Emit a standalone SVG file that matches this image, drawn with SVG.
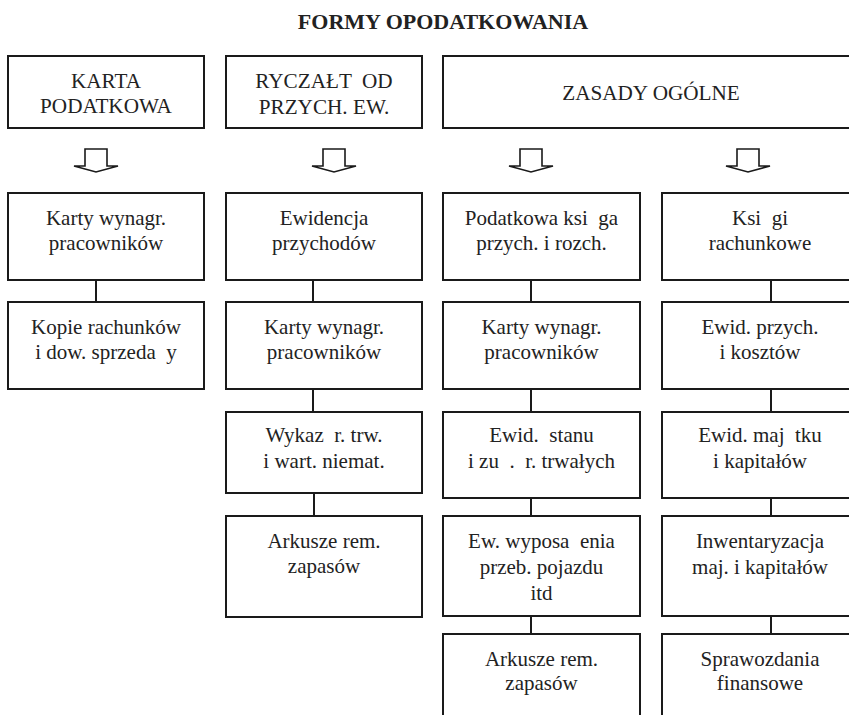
<svg xmlns="http://www.w3.org/2000/svg" width="849" height="715" viewBox="0 0 849 715">
<style>
.box{fill:#fff;stroke:#1a1a1a;stroke-width:2}
.t{font-family:'Liberation Serif','Times New Roman',serif;font-size:21px;font-weight:normal;fill:#222;text-anchor:middle}
.u{font-size:21.2px}
.title{font-family:'Liberation Serif','Times New Roman',serif;font-size:22px;font-weight:bold;fill:#222;text-anchor:middle}
.c{stroke:#1a1a1a;stroke-width:2;fill:none}
.arr{fill:#fff;stroke:#1a1a1a;stroke-width:1.6;stroke-linejoin:miter}
</style>
<rect width="849" height="715" fill="#fff"/>
<text class="title" x="443" y="29">FORMY OPODATKOWANIA</text>

<g id="connectors">
<path class="arr" d="M85,149 H107 V166 H118 L96,172 L74,166 H85 Z"/>
<path class="arr" d="M323,149 H345 V166 H356 L334,172 L312,166 H323 Z"/>
<path class="arr" d="M520,149 H542 V166 H553 L531,172 L509,166 H520 Z"/>
<path class="arr" d="M737,149 H759 V166 H770 L748,172 L726,166 H737 Z"/>
<path class="c" d="M96,280 V302 M313,280 V302 M313,389 V412 M314,493 V516 M531,280 V302 M531,389 V412 M531,498 V516 M531,616 V634 M771,280 V302 M771,389 V412 M771,498 V516 M771,616 V634"/>
</g>

<g id="karta">
<rect class="box" x="8" y="56" width="196" height="72"/>
<text class="t u" x="106" y="88.3">KARTA</text>
<text class="t u" x="106" y="113.3">PODATKOWA</text>
</g>
<g id="ryczalt">
<rect class="box" x="226" y="56" width="196" height="72"/>
<text class="t u" x="324" y="88.3" xml:space="preserve">RYCZAŁT  OD</text>
<text class="t u" x="324" y="114">PRZYCH. EW.</text>
</g>
<g id="zasady">
<rect class="box" x="443" y="56" width="416" height="72"/>
<text class="t u" x="651" y="100">ZASADY OGÓLNE</text>
</g>

<g id="c1r1"><rect class="box" x="8" y="193" width="196" height="87"/>
<text class="t" x="106" y="225">Karty wynagr.</text><text class="t" x="106" y="250">pracowników</text></g>
<g id="c1r2"><rect class="box" x="8" y="302" width="196" height="87"/>
<text class="t" x="106" y="334">Kopie rachunków</text><text class="t" x="106" y="359" xml:space="preserve">i dow. sprzeda  y</text></g>

<g id="c2r1"><rect class="box" x="226" y="193" width="196" height="87"/>
<text class="t" x="324" y="225">Ewidencja</text><text class="t" x="324" y="250">przychodów</text></g>
<g id="c2r2"><rect class="box" x="226" y="302" width="196" height="87"/>
<text class="t" x="324" y="334">Karty wynagr.</text><text class="t" x="324" y="359">pracowników</text></g>
<g id="c2r3"><rect class="box" x="226" y="412" width="196" height="81"/>
<text class="t" x="324" y="442" xml:space="preserve">Wykaz  r. trw.</text><text class="t" x="324" y="468">i wart. niemat.</text></g>
<g id="c2r4"><rect class="box" x="226" y="516" width="196" height="101"/>
<text class="t" x="324" y="548">Arkusze rem.</text><text class="t" x="324" y="573">zapasów</text></g>

<g id="c3r1"><rect class="box" x="443" y="193" width="197" height="87"/>
<text class="t" x="541.5" y="225" xml:space="preserve">Podatkowa ksi  ga</text><text class="t" x="541.5" y="250">przych. i rozch.</text></g>
<g id="c3r2"><rect class="box" x="443" y="302" width="197" height="87"/>
<text class="t" x="541.5" y="334">Karty wynagr.</text><text class="t" x="541.5" y="359">pracowników</text></g>
<g id="c3r3"><rect class="box" x="443" y="412" width="197" height="86"/>
<text class="t" x="541.5" y="442" xml:space="preserve">Ewid.  stanu</text><text class="t" x="541.5" y="468" xml:space="preserve">i zu  .  r. trwałych</text></g>
<g id="c3r4"><rect class="box" x="443" y="516" width="197" height="100"/>
<text class="t" x="541.5" y="548" xml:space="preserve">Ew. wyposa  enia</text><text class="t" x="541.5" y="574">przeb. pojazdu</text><text class="t" x="541.5" y="600">itd</text></g>
<g id="c3r5"><rect class="box" x="443" y="634" width="197" height="90"/>
<text class="t" x="541.5" y="666">Arkusze rem.</text><text class="t" x="541.5" y="690">zapasów</text></g>

<g id="c4r1"><rect class="box" x="662" y="193" width="197" height="87"/>
<text class="t" x="760" y="225" xml:space="preserve">Ksi  gi</text><text class="t" x="760" y="250">rachunkowe</text></g>
<g id="c4r2"><rect class="box" x="662" y="302" width="197" height="87"/>
<text class="t" x="760" y="334">Ewid. przych.</text><text class="t" x="760" y="359">i kosztów</text></g>
<g id="c4r3"><rect class="box" x="662" y="412" width="197" height="86"/>
<text class="t" x="760" y="442" xml:space="preserve">Ewid. maj  tku</text><text class="t" x="760" y="468">i kapitałów</text></g>
<g id="c4r4"><rect class="box" x="662" y="516" width="197" height="100"/>
<text class="t" x="760" y="548">Inwentaryzacja</text><text class="t" x="760" y="574">maj. i kapitałów</text></g>
<g id="c4r5"><rect class="box" x="662" y="634" width="197" height="90"/>
<text class="t" x="760" y="666">Sprawozdania</text><text class="t" x="760" y="690">finansowe</text></g>
</svg>
